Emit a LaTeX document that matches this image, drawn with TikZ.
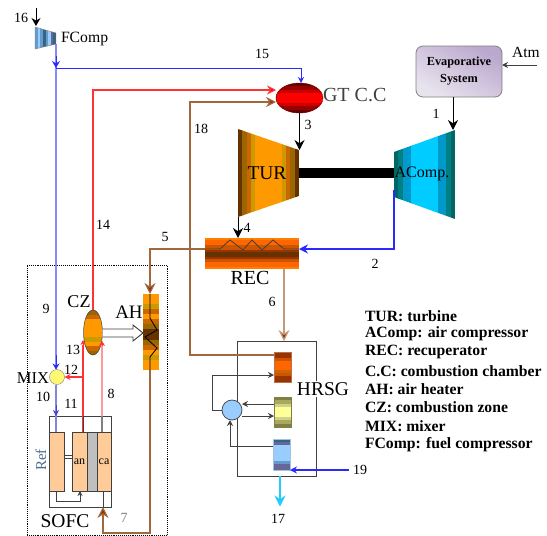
\documentclass[tikz,border=0pt]{standalone}
\usepackage{fontspec}
\setmainfont{Liberation Serif}
\usetikzlibrary{arrows.meta,calc,shapes.geometric,shapes.arrows}
\definecolor{t1}{HTML}{663300}\definecolor{t2}{HTML}{996600}\definecolor{t3}{HTML}{CC6600}\definecolor{t4}{HTML}{CC9900}\definecolor{t5}{HTML}{FF9900}
\definecolor{a1}{HTML}{006666}\definecolor{a2}{HTML}{008080}\definecolor{a3}{HTML}{0099CC}\definecolor{a4}{HTML}{00CCFF}
\definecolor{r0}{HTML}{FF8000}\definecolor{r1}{HTML}{FF6600}\definecolor{r2}{HTML}{CC5500}\definecolor{r3}{HTML}{993300}
\definecolor{g1}{HTML}{660000}\definecolor{g2}{HTML}{990000}\definecolor{g3}{HTML}{CC0000}\definecolor{g4}{HTML}{FF0000}
\definecolor{y1}{HTML}{808040}\definecolor{y2}{HTML}{A8A860}\definecolor{y3}{HTML}{D0D088}\definecolor{y4}{HTML}{FFFF99}
\definecolor{b1}{HTML}{336680}\definecolor{b2}{HTML}{666699}\definecolor{b3}{HTML}{99CCFF}\definecolor{b4}{HTML}{6699CC}
\definecolor{lineblue}{HTML}{2A2AFF}\definecolor{softblue}{HTML}{8888FF}\definecolor{linered}{HTML}{FF3333}\definecolor{softred}{HTML}{FF9999}
\definecolor{brownline}{HTML}{A0683C}\definecolor{tanline}{HTML}{C49A7A}\definecolor{brownhead}{HTML}{993300}
\definecolor{peach}{HTML}{FFCC99}\definecolor{darkgrey}{HTML}{404040}\definecolor{refblue}{HTML}{4A6A90}
\definecolor{lav1}{HTML}{BBA8CE}\definecolor{lav2}{HTML}{E8E4EE}\definecolor{skyline}{HTML}{22CCFF}
\newcommand\stripsH[1]{\foreach \c [count=\n] in {#1} {\xdef\nstrip{\n}}%
 \foreach \c [count=\i from 0] in {#1} {\fill[\c] ($(path picture bounding box.south west)!{\i/\nstrip}!(path picture bounding box.south east)$) rectangle ($(path picture bounding box.north west)!{(\i+1.08)/\nstrip}!(path picture bounding box.north east)$);}}
\newcommand\stripsV[1]{\foreach \c [count=\n] in {#1} {\xdef\nstrip{\n}}%
 \foreach \c [count=\i from 0] in {#1} {\fill[\c] ($(path picture bounding box.north west)!{\i/\nstrip}!(path picture bounding box.south west)$) rectangle ($(path picture bounding box.north east)!{(\i+1.08)/\nstrip}!(path picture bounding box.south east)$);}}
\tikzset{
 lbl/.style={inner sep=0,outer sep=0,font=\fontsize{14}{14}\selectfont},
 big/.style={inner sep=0,outer sep=0,font=\fontsize{19.5}{20}\selectfont},
 legend/.style={inner sep=0,outer sep=0,anchor=west,font=\fontsize{15.7}{16}\selectfont\bfseries},
 box/.style={rectangle,inner sep=0,outer sep=0},
 oval/.style={ellipse,inner sep=0,outer sep=0},
 blk/.style={black,line width=1pt,-{Stealth[length=10pt,width=10pt]}},
 thin arr/.style={darkgrey,line width=1pt,-{Stealth[length=6pt,width=6pt]}},
}
\begin{document}
\begin{tikzpicture}[x=1pt,y=-1pt]
\useasboundingbox (0,0) rectangle (547,536);
% enclosure of the SOFC block
\node[box,draw=black,densely dotted,line width=0.9pt,minimum width=140pt,minimum height=270pt] (block) at (97,400) {};
% named positions
\coordinate (fc1) at (35,27);\coordinate (fc2) at (56,33);\coordinate (fc3) at (56,44);\coordinate (fc4) at (35,49);
\coordinate (in16) at (36,8);
\coordinate (tee) at (56,68);
\coordinate (c15) at (301,68);
\coordinate (c14) at (93,90);
\coordinate (c18a) at (190,102);
\coordinate (c18b) at (190,355);
\coordinate (c5) at (150,249);
\coordinate (c7a) at (150,533);
\coordinate (c7b) at (103,533);
\coordinate (c2) at (394,249);
\coordinate (t1a) at (238,129);\coordinate (t1b) at (299,150);\coordinate (t1c) at (299,196);\coordinate (t1d) at (238,217);
\coordinate (ac1) at (394,152);\coordinate (ac2) at (455,130);\coordinate (ac3) at (455,219);\coordinate (ac4) at (394,197);
\coordinate (acout) at (394,190);
% connector 18 runs behind the recuperator
\draw[tanline,line width=1.1pt] (c18b) -- (c18a);
% main component nodes
\node[box,draw=gray,rounded corners=7pt,line width=0.8pt,left color=lav1,right color=lav2,shading angle=-30,minimum width=86pt,minimum height=51pt,align=center,font=\fontsize{12.3}{17}\selectfont\bfseries] (evap) at (459,71.5) {Evaporative\\System};
\node[box,minimum size=0pt] (atm) at (537,65) {};
\node[oval,draw=g1,line width=0.5pt,minimum width=47pt,minimum height=30pt,path picture={\stripsV{g1,g2,g3,g4,g4,g4,g3,g2,g1}}] (gt) at (299.5,98) {};
\node[box,minimum width=94pt,minimum height=31pt,path picture={\stripsV{r0,r1,r1,r2,r2,r3,t1,t1,r3,r2,r1,r1,r0}}] (rec) at (252,253.5) {};
\node[box,minimum width=16pt,minimum height=76pt,path picture={\stripsV{t5,t5,t4,t3,t5,t3,t2,t1,t1,t2,t3,t5,t4,t5,t5}}] (ah) at (151,332) {};
\node[oval,draw=darkgrey,line width=0.5pt,minimum width=19pt,minimum height=45pt,path picture={\stripsV{t2,t3,t5,t5,t5,t5,t4,t5,t3,t2}}] (cz) at (93,332.5) {};
\node[circle,draw=gray,fill=yellow!55,inner sep=0,outer sep=0,minimum size=15pt] (mix) at (57,377) {};
% SOFC
\node[box,draw=darkgrey,line width=0.9pt,minimum width=62pt,minimum height=91pt] (sofc) at (80,461.5) {};
\node[box,draw=darkgrey,line width=0.5pt,fill=peach,minimum width=15pt,minimum height=59pt] (ref) at (56.5,461.5) {};
\node[box,draw=darkgrey,line width=0.5pt,fill=gray!50,minimum width=10pt,minimum height=59pt] (el) at (92,461.5) {};
\node[box,draw=darkgrey,line width=0.5pt,fill=peach,minimum width=15pt,minimum height=59pt,font=\fontsize{12}{12}\selectfont] (an) at (79.5,461.5) {an};
\node[box,draw=darkgrey,line width=0.5pt,fill=peach,minimum width=14pt,minimum height=59pt,font=\fontsize{12}{12}\selectfont] (ca) at (104,461.5) {ca};
% HRSG
\node[box,draw=darkgrey,line width=1pt,minimum width=79pt,minimum height=135pt] (hrsg) at (276.5,408.5) {};
\node[box,fill=white,font=\fontsize{19.5}{20}\selectfont,inner sep=1pt] (hrsglab) at (323,389) {HRSG};
\node[box,minimum width=17pt,minimum height=30pt,draw=r3!70,line width=0.4pt,path picture={\stripsV{r3,r3,r2,r1,r1,r1,t3,r2,r3,r3}}] (hx1) at (282.5,367) {};
\node[box,minimum width=17pt,minimum height=30pt,draw=y1,line width=0.4pt,path picture={\stripsV{y1,y2,y3,y4,y4,y4,y3,y2,y1}}] (hx2) at (282.5,412) {};
\node[box,minimum width=17pt,minimum height=31pt,draw=b4!60,line width=0.4pt,path picture={\stripsV{b1,b2,b3,b3,b3,b3,b3,b4,b2,b2}}] (hx3) at (281.5,454.5) {};
\node[circle,draw=darkgrey,fill=b3,line width=0.7pt,inner sep=0,outer sep=0,minimum size=20pt] (pump) at (232,410) {};
% connectors: fuel side
\draw[black,line width=1pt,-{Stealth[length=8pt,width=9pt]}] (in16) -- (36,26);
\draw[softblue,line width=2pt] (fc3) -- (56,369);
\draw[lineblue,line width=1pt,-{Stealth[length=7pt,width=8pt]}] (56,56) -- (tee);
\draw[lineblue,line width=1pt,-{Stealth[length=6pt,width=6pt]}] (tee) -- (c15) -- (gt.north -| c15);
\draw[lineblue,line width=1pt,-{Stealth[length=6pt,width=7pt]}] (56,355) -- (mix.north -| 56,0);
\draw[softblue!70!gray,line width=1.5pt] (mix.south -| 56,0) -- (sofc.north -| 56,0) -- (ref.north -| 56,0);
\draw[lineblue!70!gray,line width=0.6pt,-{Stealth[length=6pt,width=6pt]}] (56,405) -- (sofc.north -| 56,0);
\draw[linered,line width=1.1pt,-{Stealth[length=9pt,width=9pt,fill=red]}] (cz.north) -- (c14) -- (gt.west |- c14);
\draw[brownline,line width=1.1pt,-{Stealth[length=10pt,width=10pt,fill=brownhead]}] (hx1.west |- c18b) -- (c18b) -- (c18a) -- (gt.west |- c18a);
\draw[linered,line width=1.1pt] (an.north -| 83,0) -- (83,345);
\draw[linered,line width=0.7pt,-{Stealth[length=5pt,width=5pt]}] (83,346) -- (83,340);
\draw[linered,line width=1.1pt,-{Stealth[length=6pt,width=6pt]}] (83,377) -- (mix.east);
\draw[darkgrey,line width=0.9pt] (an.north -| 83,0) -- (sofc.north -| 83,0);
\draw[softred,line width=1.9pt] (sofc.north -| 102,0) -- (102,345);
\draw[linered,line width=0.6pt,-{Stealth[length=5pt,width=6pt]}] (102,346) -- (102,341);
\draw[gray,line width=1.1pt] (ca.north -| 102,0) -- (sofc.north -| 102,0);
\draw[darkgrey,line width=0.9pt,-{Stealth[length=5pt,width=5pt]}] (ref.south) -- (ref.south |- 0,501) -- (80,501) -- (an.south -| 80,0);
\draw[darkgrey,line width=0.6pt,fill=white] (64,455.5) rectangle (72,458.5);
% air and gas side
\draw[blk] (evap.south -| 453,0) -- (ac2 -| 453,0);
\draw[darkgrey,line width=1pt,-{Stealth[length=6pt,width=6pt]}] (atm) -- (evap.east |- atm);
\draw[blk] (gt.south) -- (t1b -| gt.south);
\path[draw=none,path picture={\stripsH{t1,t2,t3,t4,t5,t5,t5,t5,t5,t5,t4,t3,t2,t1}}] (t1a) -- (t1b) -- (t1c) -- (t1d) -- cycle;
\path[draw=none,path picture={\stripsH{a1,a2,a3,a3,a4,a4,a4,a4,a4,a4,a3,a3,a2,a1}}] (ac1) -- (ac2) -- (ac3) -- (ac4) -- cycle;
\node[box,fill=black,minimum width=95pt,minimum height=10pt] (shaft) at (346.5,173) {};
\draw[blk] (t1d) -- (rec.north -| t1d);
\draw[lineblue,line width=1.1pt,-{Stealth[length=9pt,width=9pt]}] (acout) -- (c2) -- (rec.east |- c2);
\draw[brownline,line width=1.1pt,-{Stealth[length=11pt,width=11pt,fill=brownhead]}] (rec.west |- c5) -- (c5) -- (ah.north -| c5);
\draw[brownline,line width=1.1pt,-{Stealth[length=11pt,width=11pt,fill=brownhead]}] (ah.south -| c5) -- (c7a) -- (c7b) -- (sofc.south -| c7b);
\draw[darkgrey,line width=0.9pt] (sofc.south -| c7b) -- (ca.south -| c7b);
\draw[tanline,line width=1.2pt,-{Stealth[length=11pt,width=11pt,fill=brownhead]}] (rec.south -| 284,0) -- (hrsg.north -| 284,0);
% coils
\draw[darkgrey,line width=0.8pt] (rec.west |- c5) -- (220,249) -- (230,240) -- (243,250) -- (252,240) -- (262,250) -- (273,240) -- (284,249) -- (rec.east |- c5);
\draw[black,line width=0.8pt] (ah.north -| c5) -- (150,318) -- (157,330) -- (145,337) -- (157,348) -- (150,357) -- (ah.south -| c5);
% heat arrow
\draw[darkgrey,line width=0.9pt,fill=white] (cz.east |- 0,329) -- (133,329) -- (133,325) -- (ah.west |- 0,333) -- (133,341) -- (133,337) -- (cz.east |- 0,337);
% HRSG water loop
\draw[thin arr] (pump.west) -- (212,410) -- (212,375) -- (hx1.west |- 0,375);
\draw[thin arr] (hx2.west |- 0,404) -- (pump.east |- 0,404);
\draw[thin arr] (pump.east |- 0,416) -- (hx2.west |- 0,416);
\draw[thin arr] (hx3.west |- 0,446) -- (230,446) -- (pump.south -| 230,0);
\node[box] (in19) at (349,470) {};
\draw[lineblue,line width=1.1pt,-{Stealth[length=7pt,width=7pt]}] (in19) -- (hx3.east |- in19);
\node[box] (out17) at (280,507) {};
\draw[skyline,line width=1.3pt,-{Stealth[length=11pt,width=11pt]}] (hrsg.south -| out17) -- (out17);
% FComp body
\path[draw=gray,line width=0.4pt,path picture={\stripsH{b4,b3,b4,b1,b4,b3,b2,b1}}] (fc1) -- (fc2) -- (fc3) -- (fc4) -- cycle;
% labels
\node[lbl] (l16) at (21,18) {16};
\node[lbl,anchor=west,font=\fontsize{15.7}{16}\selectfont] (lfc) at (61,39) {FComp};
\node[lbl] (l15) at (262,54) {15};
\node[lbl] (l18) at (201,129) {18};
\node[lbl] (l14) at (103,225) {14};
\node[lbl] (l3) at (308,125) {3};
\node[lbl] (l1) at (436,114) {1};
\node[lbl,font=\fontsize{15.5}{16}\selectfont] (latm) at (526,52) {Atm};
\node[lbl] (l4) at (247,228) {4};
\node[lbl] (l2) at (375,264) {2};
\node[lbl] (l5) at (165,237) {5};
\node[lbl] (l6) at (272,302) {6};
\node[lbl] (l9) at (46,309) {9};
\node[lbl] (l13) at (73,350) {13};
\node[lbl] (l12) at (71,370) {12};
\node[lbl] (l10) at (43,397) {10};
\node[lbl] (l11) at (71,404) {11};
\node[lbl] (l8) at (111,394) {8};
\node[lbl,text=gray] (l7) at (124,518) {7};
\node[lbl] (l19) at (360,470) {19};
\node[lbl] (l17) at (278,519) {17};
\node[big,text=black!75,font=\fontsize{20}{20}\selectfont,anchor=west] (lgt) at (323,95) {GT C.C};
\node[big] (ltur) at (267,173) {TUR};
\node[lbl,font=\fontsize{16}{16}\selectfont] (lac) at (422,174) {AComp.};
\node[big,font=\fontsize{20}{20}\selectfont] (lrec) at (250,278) {REC};
\node[big,font=\fontsize{18}{18}\selectfont] (lcz) at (79,302) {CZ};
\node[big,font=\fontsize{19}{19}\selectfont] (lah) at (129,312) {AH};
\node[lbl,font=\fontsize{16.5}{17}\selectfont] (lmix) at (33,378) {MIX};
\node[lbl,text=refblue,rotate=90,font=\fontsize{15}{15}\selectfont] (lref) at (41,460) {Ref};
\node[big] (lsofc) at (65,521) {SOFC};
% legend
\node[legend] (k1) at (365,316) {TUR: turbine};
\node[legend] (k2) at (365,334) {AComp: air compressor};
\node[legend] (k3) at (365,352) {REC: recuperator};
\node[legend] (k4) at (365,371) {C.C: combustion chamber};
\node[legend] (k5) at (365,389) {AH: air heater};
\node[legend] (k6) at (365,407) {CZ: combustion zone};
\node[legend] (k7) at (365,426) {MIX: mixer};
\node[legend] (k8) at (365,445) {FComp: fuel compressor};
\end{tikzpicture}
\end{document}
